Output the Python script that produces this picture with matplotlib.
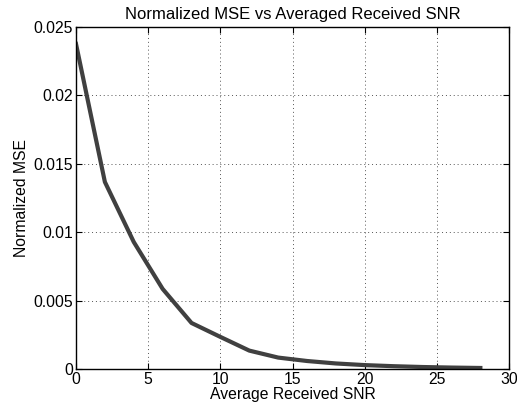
import matplotlib
matplotlib.use("Agg")
import matplotlib.pyplot as plt

snr = [0, 2, 4, 6, 8, 10, 12, 14, 16, 18, 20, 22, 24, 26, 28]
mse = [0.02376, 0.01367, 0.00928, 0.00585, 0.00336, 0.00234, 0.00134, 0.00083,
       0.00058, 0.00040, 0.00028, 0.00020, 0.00014, 0.00010, 0.00007]

plt.rcParams['font.family'] = ['Liberation Sans', 'DejaVu Sans']
plt.rcParams['font.size'] = 11.3

fig = plt.figure(figsize=(5.17, 4.15), dpi=100)
ax = fig.add_axes([0.147, 0.111, 0.838, 0.824])
ax.plot(snr, mse, color='#404040', linewidth=3)
ax.set_xlim(0, 30)
ax.set_ylim(0, 0.025)
ax.set_xticks([0, 5, 10, 15, 20, 25, 30])
ax.set_yticks([0, 0.005, 0.01, 0.015, 0.02, 0.025])
ax.set_yticklabels(['0', '0.005', '0.01', '0.015', '0.02', '0.025'])
ax.grid(True, linestyle=(0, (1, 3)), color='#555555', linewidth=0.7)
ax.tick_params(direction='in', top=True, right=True, length=4, pad=2)
for s in ax.spines.values():
    s.set_linewidth(1.0)
ax.set_xlabel('Average Received SNR', labelpad=0)
ax.set_ylabel('Normalized MSE', labelpad=3)
ax.set_title('Normalized MSE vs Averaged Received SNR', fontsize=12, pad=6)

fig.savefig('out.png', dpi=100)
